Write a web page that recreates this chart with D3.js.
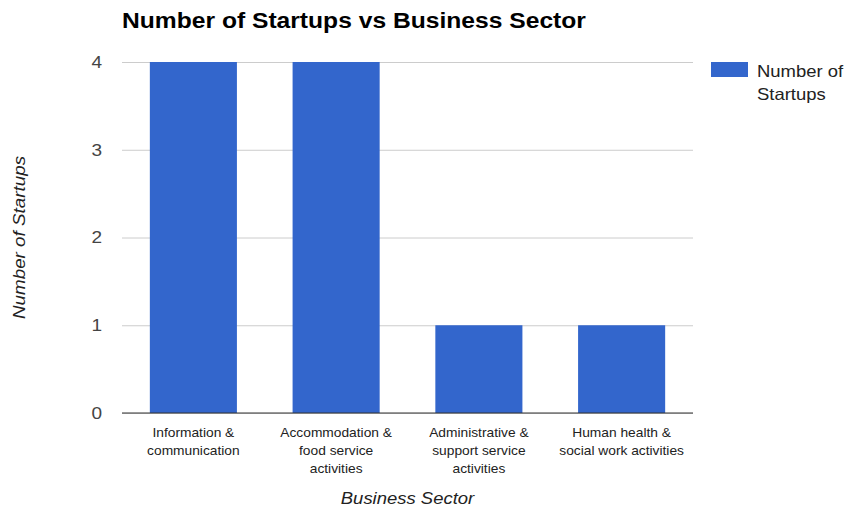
<!DOCTYPE html>
<html>
<head>
<meta charset="utf-8">
<script src="https://cdn.jsdelivr.net/npm/d3@7"></script>
<style>
  html, body { margin: 0; padding: 0; background: #fff; }
  svg { display: block; font-family: "Liberation Sans", Arial, sans-serif; }
</style>
</head>
<body>
<svg id="chart" width="848" height="510"></svg>
<script>
// Startups counted per business sector
const categories = [
  ["Information &", "communication"],
  ["Accommodation &", "food service", "activities"],
  ["Administrative &", "support service", "activities"],
  ["Human health &", "social work activities"]
];
const startups = [4, 4, 1, 1];
const yTicks = [0, 1, 2, 3, 4];
const seriesName = ["Number of", "Startups"];

const svg = d3.select("#chart");
const margin = { left: 122, right: 155, top: 62, bottom: 97 };
const W = 848, H = 510;
const plotW = W - margin.left - margin.right;
const plotH = H - margin.top - margin.bottom;
const SX = 1.12; // horizontal widening of the label type

const x = d3.scaleBand()
  .domain(d3.range(categories.length))
  .range([margin.left, margin.left + plotW])
  .paddingInner(0.39)
  .paddingOuter(0.195);

const y = d3.scaleLinear()
  .domain([0, 4])
  .range([margin.top + plotH, margin.top]);

// helper: text placed at (px,py), widened horizontally
function label(parent, px, py, str, size, opts = {}) {
  return parent.append("text")
    .attr("transform", `translate(${px},${py}) scale(${SX},1)`)
    .attr("text-anchor", opts.anchor || "start")
    .attr("font-size", size)
    .attr("font-weight", opts.weight || "normal")
    .attr("font-style", opts.style || "normal")
    .attr("fill", opts.fill || "#222")
    .text(str);
}

// Title
label(svg, 122, 28, "Number of Startups vs Business Sector", 22, { weight: "bold", fill: "#000" });

// Gridlines and value ticks
const yAxis = d3.axisLeft(y)
  .tickValues(yTicks)
  .tickSize(-plotW)
  .tickPadding(18)
  .tickFormat(d3.format("d"));

const gy = svg.append("g")
  .attr("transform", `translate(${margin.left},0)`)
  .call(yAxis);
gy.select(".domain").remove();
gy.selectAll(".tick line").attr("stroke", "#cccccc");
gy.selectAll(".tick text")
  .attr("x", null)
  .attr("transform", `translate(-20,0) scale(${SX},1)`)
  .attr("font-size", 17).attr("fill", "#444")
  .attr("font-family", "Liberation Sans, Arial, sans-serif");

// Bars
svg.append("g").selectAll("rect")
  .data(startups)
  .join("rect")
  .attr("x", (d, i) => x(i))
  .attr("width", x.bandwidth())
  .attr("y", d => y(d))
  .attr("height", d => y(0) - y(d))
  .attr("fill", "#3366cc");

// Baseline
svg.append("line")
  .attr("x1", margin.left).attr("x2", margin.left + plotW)
  .attr("y1", y(0)).attr("y2", y(0))
  .attr("stroke", "#333").attr("stroke-width", 1.2);

// Category labels
const xl = svg.append("g");
categories.forEach((lines, i) => {
  lines.forEach((ln, j) => {
    label(xl, x(i) + x.bandwidth() / 2, y(0) + 24 + j * 18, ln, 12.3, { anchor: "middle" });
  });
});

// Axis titles
label(svg, margin.left + plotW / 2, 504, "Business Sector", 16.5, { anchor: "middle", style: "italic" });

svg.append("text")
  .attr("transform", `translate(25,${margin.top + plotH / 2}) rotate(-90) scale(1.14,1)`)
  .attr("text-anchor", "middle")
  .attr("font-size", 16.5).attr("font-style", "italic").attr("fill", "#222")
  .text("Number of Startups");

// Legend
const lg = svg.append("g").attr("transform", "translate(711,62)");
lg.append("rect").attr("width", 37).attr("height", 15).attr("fill", "#3366cc");
seriesName.forEach((s, j) => {
  label(lg, 46, 14.5 + j * 23.5, s, 16.5);
});
</script>
</body>
</html>
